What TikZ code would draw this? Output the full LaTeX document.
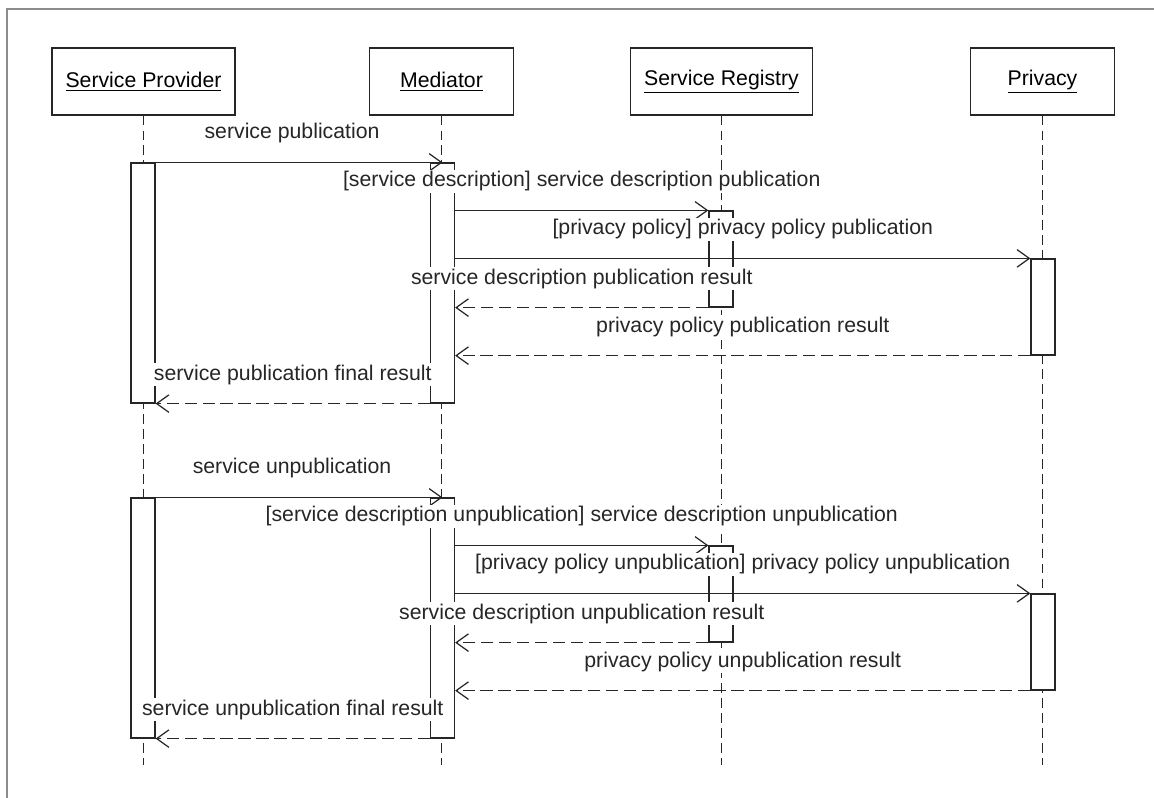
\documentclass[tikz,border=0pt]{standalone}
\usepackage{fontspec}
\setmainfont{Liberation Sans}
\usetikzlibrary{arrows.meta}

\tikzset{
  frame/.style={draw=black!45, line width=1.1pt},
  head/.style={draw=black!85, line width=0.7pt, minimum width=2.88cm, minimum height=1.34cm, inner xsep=0.27cm},
  life/.style={draw=black!85, line width=0.7pt, dash pattern=on 5.5pt off 3pt},
  bar/.style={draw=black!85, fill=white, line width=0.7pt, inner sep=0pt, minimum width=0.48cm},
  msg/.style={draw=black!85, line width=0.7pt, -{Straight Barb[length=7pt,width=10pt]}},
  reply/.style={msg, dash pattern=on 7pt off 3.2pt},
  lbl/.style={fill=white, inner sep=1pt, text=black!85, midway, yshift=0.58cm}
}

\begin{document}
\begin{tikzpicture}[x=0.02cm, y=-0.02cm, font=\fontsize{12.1}{14.5}\selectfont]
\useasboundingbox (0,0) rectangle (1154,798);
\draw[frame] (1154,9) -- (7,9) -- (7,798);

\node[head] (sp) at (143.5,81.5) {\underline{Service Provider}};
\node[head] (med) at (441.5,81.5) {\underline{Mediator}};
\node[head] (reg) at (721.5,81.5) {\underline{Service Registry}};
\node[head] (pr) at (1042.5,81.5) {\underline{Privacy}};
\coordinate (end) at (0,765);

\draw[life] (sp.south) -- (sp.south |- end);
\draw[life] (med.south) -- (med.south |- end);
\draw[life] (reg.south) -- (reg.south |- end);
\draw[life] (pr.south) -- (pr.south |- end);

% publication
\node[bar, minimum height=4.8cm] (spA) at (143,283) {};
\node[bar, minimum height=4.8cm] (medA) at (442.5,283) {};
\node[bar, minimum height=1.92cm] (regA) at (721,259) {};
\node[bar, minimum height=1.92cm] (prA) at (1043,307) {};

\draw[msg] (spA.north east) -- node[lbl, xshift=-0.14cm] {service publication} (medA.north);
\draw[msg] (medA.east |- regA.north) -- node[lbl] {[service description] service description publication} (regA.north west);
\draw[msg] (medA.east |- prA.north) -- node[lbl] {[privacy policy] privacy policy publication} (prA.north west);
\draw[reply] (regA.south west) -- node[lbl] {service description publication result} (medA.east |- regA.south);
\draw[reply] (prA.south west) -- node[lbl] {privacy policy publication result} (medA.east |- prA.south);
\draw[reply] (medA.south west) -- node[lbl] {service publication final result} (spA.south east);

% unpublication
\node[bar, minimum height=4.8cm] (spB) at (143,618) {};
\node[bar, minimum height=4.8cm] (medB) at (442.5,618) {};
\node[bar, minimum height=1.92cm] (regB) at (721,594) {};
\node[bar, minimum height=1.92cm] (prB) at (1043,642) {};

\draw[msg] (spB.north east) -- node[lbl, xshift=-0.14cm] {service unpublication} (medB.north);
\draw[msg] (medB.east |- regB.north) -- node[lbl] {[service description unpublication] service description unpublication} (regB.north west);
\draw[msg] (medB.east |- prB.north) -- node[lbl] {[privacy policy unpublication] privacy policy unpublication} (prB.north west);
\draw[reply] (regB.south west) -- node[lbl] {service description unpublication result} (medB.east |- regB.south);
\draw[reply] (prB.south west) -- node[lbl] {privacy policy unpublication result} (medB.east |- prB.south);
\draw[reply] (medB.south west) -- node[lbl] {service unpublication final result} (spB.south east);
\end{tikzpicture}
\end{document}
